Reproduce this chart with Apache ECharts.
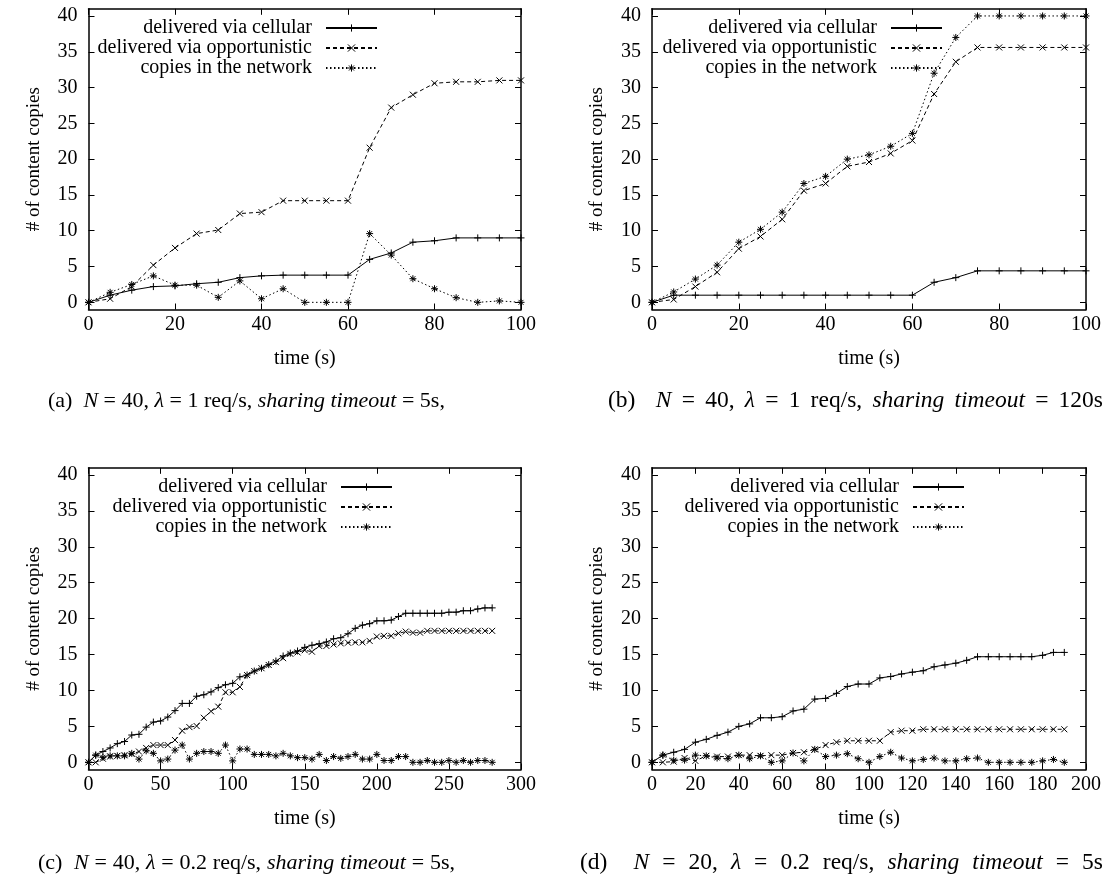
<!DOCTYPE html>
<html>
<head>
<meta charset="utf-8">
<script src="https://cdn.jsdelivr.net/npm/echarts@6/dist/echarts.min.js"></script>
<style>
  html, body { margin: 0; padding: 0; background: #fff; }
  #chart { width: 1106px; height: 880px; }
</style>
</head>
<body>
<div id="chart"></div>
<script>
// Series names shared by all four panels
const seriesNames = ['delivered via cellular', 'delivered via opportunistic', 'copies in the network'];

// Tick values
const yTicks = [0, 5, 10, 15, 20, 25, 30, 35, 40];
const xTicksAB = [0, 20, 40, 60, 80, 100];
const xTicksC = [0, 50, 100, 150, 200, 250, 300];
const xTicksD = [0, 20, 40, 60, 80, 100, 120, 140, 160, 180, 200];

// (a) N = 40, lambda = 1 req/s, sharing timeout = 5 s
const timeA = [0, 5, 10, 15, 20, 25, 30, 35, 40, 45, 50, 55, 60, 65, 70, 75, 80, 85, 90, 95, 100];
const cellA = [0, 1.0, 1.7, 2.2, 2.3, 2.6, 2.8, 3.45, 3.7, 3.8, 3.8, 3.8, 3.8, 6.0, 6.9, 8.4, 8.6, 9.0, 9.0, 9.0, 9.0];
const oppA  = [0, 0.5, 2.2, 5.2, 7.6, 9.6, 10.1, 12.4, 12.6, 14.2, 14.2, 14.2, 14.2, 21.6, 27.2, 29.0, 30.6, 30.8, 30.8, 31.0, 31.0];
const copA  = [0, 1.4, 2.5, 3.7, 2.4, 2.4, 0.7, 3.0, 0.5, 1.9, 0, 0, 0, 9.6, 6.6, 3.3, 1.9, 0.65, 0, 0.2, 0];

// (b) N = 40, lambda = 1 req/s, sharing timeout = 120 s
const timeB = [0, 5, 10, 15, 20, 25, 30, 35, 40, 45, 50, 55, 60, 65, 70, 75, 80, 85, 90, 95, 100];
const cellB = [0, 1.0, 1.0, 1.0, 1.0, 1.0, 1.0, 1.0, 1.0, 1.0, 1.0, 1.0, 1.0, 2.8, 3.45, 4.4, 4.4, 4.4, 4.4, 4.4, 4.4];
const oppB  = [0, 0.4, 2.2, 4.2, 7.5, 9.2, 11.6, 15.6, 16.6, 19.0, 19.6, 20.8, 22.6, 29.1, 33.6, 35.6, 35.6, 35.6, 35.6, 35.6, 35.6];
const copB  = [0, 1.45, 3.25, 5.2, 8.4, 10.2, 12.6, 16.6, 17.6, 20.0, 20.6, 21.8, 23.6, 32.0, 37.0, 40, 40, 40, 40, 40, 40];

// (c) N = 40, lambda = 0.2 req/s, sharing timeout = 5 s
const timeC = [0, 5, 10, 15, 20, 25, 30, 35, 40, 45, 50, 55, 60, 65, 70, 75, 80, 85, 90, 95,
  100, 105, 110, 115, 120, 125, 130, 135, 140, 145, 150, 155, 160, 165, 170, 175, 180, 185, 190, 195,
  200, 205, 210, 215, 220, 225, 230, 235, 240, 245, 250, 255, 260, 265, 270, 275, 280];
const cellC = [0, 1.0, 1.5, 2.0, 2.6, 2.9, 3.8, 3.9, 4.9, 5.6,
  5.75, 6.3, 7.2, 8.2, 8.2, 9.2, 9.4, 9.8, 10.4, 10.8,
  11.0, 11.9, 12.15, 12.7, 13.1, 13.6, 14.1, 14.8, 15.2, 15.5,
  16.0, 16.3, 16.5, 16.75, 17.2, 17.35, 17.9, 18.65, 19.1, 19.3,
  19.7, 19.7, 19.8, 20.3, 20.75, 20.75, 20.75, 20.75, 20.75, 20.75,
  20.9, 20.9, 21.1, 21.1, 21.35, 21.5, 21.5];
const oppC = [0, 0, 0.5, 0.8, 0.9, 1.0, 1.15, 1.5, 2.0, 2.4,
  2.4, 2.4, 3.1, 4.4, 4.9, 5.05, 6.2, 7.1, 7.75, 9.75,
  9.75, 10.5, 12.15, 12.7, 13.1, 13.55, 13.95, 14.5, 15.1, 15.3,
  15.6, 15.4, 16.2, 16.2, 16.4, 16.55, 16.65, 16.7, 16.7, 16.9,
  17.5, 17.6, 17.6, 17.95, 18.2, 18.05, 18.05, 18.3, 18.3, 18.3,
  18.3, 18.3, 18.3, 18.3, 18.3, 18.3, 18.3];
const copC = [0, 1.0, 0.7, 0.9, 0.9, 0.9, 1.25, 0.45, 1.6, 1.25,
  0.2, 0.45, 1.7, 2.4, 0.45, 1.25, 1.5, 1.5, 1.25, 2.4,
  0.2, 1.85, 1.85, 1.1, 1.1, 1.1, 0.9, 1.25, 0.9, 0.65,
  0.65, 0.45, 1.1, 0.25, 0.8, 0.55, 0.8, 1.1, 0.45, 0.45,
  1.1, 0.25, 0.25, 0.8, 0.8, 0, 0, 0.25, 0, 0,
  0.25, 0, 0.25, 0, 0.25, 0.25, 0];

// (d) N = 20, lambda = 0.2 req/s, sharing timeout = 5 s
const timeD = [0, 5, 10, 15, 20, 25, 30, 35, 40, 45, 50, 55, 60, 65, 70, 75, 80, 85, 90, 95,
  100, 105, 110, 115, 120, 125, 130, 135, 140, 145, 150, 155, 160, 165, 170, 175, 180, 185, 190];
const cellD = [0, 1.0, 1.4, 1.8, 2.8, 3.2, 3.75, 4.2, 5.0, 5.35,
  6.2, 6.2, 6.35, 7.15, 7.4, 8.8, 8.9, 9.6, 10.55, 10.9,
  10.9, 11.75, 11.95, 12.3, 12.55, 12.75, 13.3, 13.55, 13.8, 14.2,
  14.7, 14.7, 14.7, 14.7, 14.7, 14.7, 14.9, 15.3, 15.3];
const oppD = [0, 0, 0.1, 0.6, 0.2, 0.9, 0.8, 0.8, 1.0, 1.0,
  0.9, 1.0, 1.0, 1.3, 1.4, 1.8, 2.4, 2.8, 3.0, 3.0,
  3.0, 3.0, 4.2, 4.4, 4.4, 4.6, 4.6, 4.6, 4.6, 4.6,
  4.6, 4.6, 4.6, 4.6, 4.6, 4.6, 4.6, 4.6, 4.6];
const copD = [0, 1.0, 0.3, 0.3, 1.0, 0.9, 0.6, 0.5, 1.0, 0.5,
  0.9, 0, 0.2, 1.3, 0.2, 1.8, 0.8, 1.0, 1.2, 0.5,
  0, 0.8, 1.4, 0.6, 0.2, 0.4, 0.6, 0.2, 0.2, 0.5,
  0.6, 0, 0, 0, 0, 0, 0.2, 0.4, 0];

const FONT = 'Liberation Serif';

// gnuplot-like point types: 1 = plus, 2 = cross, 3 = asterisk
const SYM_PLUS = 'path://M0,5L10,5M5,0L5,10';
const SYM_CROSS = 'path://M0,0L10,10M10,0L0,10';
const SYM_STAR = 'path://M0,5L10,5M5,0L5,10M1.5,1.5L8.5,8.5M8.5,1.5L1.5,8.5';

const panels = [
  { grid: { left: 88.5, top: 8.8, width: 432.5, height: 300.7 }, xTicks: xTicksAB,
    time: timeA, cell: cellA, opp: oppA, cop: copA, legend: { right: 728, top: 18 } },
  { grid: { left: 652, top: 8.8, width: 434, height: 300.7 }, xTicks: xTicksAB,
    time: timeB, cell: cellB, opp: oppB, cop: copB, legend: { right: 163, top: 18 } },
  { grid: { left: 88.5, top: 467.8, width: 432.5, height: 301.7 }, xTicks: xTicksC,
    time: timeC, cell: cellC, opp: oppC, cop: copC, legend: { right: 713, top: 477 } },
  { grid: { left: 652, top: 467.8, width: 434, height: 301.7 }, xTicks: xTicksD,
    time: timeD, cell: cellD, opp: oppD, cop: copD, legend: { right: 141, top: 477 } }
];

// Sub-figure captions: words as [style, text]; 'r' roman, 'i' italic (math)
const captions = [
  { left: 48, right: 443, top: 390, size: 22, label: '(a)',
    words: [['i', 'N'], ['r', '='], ['r', '40,'], ['i', 'λ'], ['r', '='], ['r', '1'], ['r', 'req/s,'], ['i', 'sharing'], ['i', 'timeout'], ['r', '='], ['r', '5s,']] },
  { left: 608, right: 1103, top: 389, size: 23.5, label: '(b)',
    words: [['i', 'N'], ['r', '='], ['r', '40,'], ['i', 'λ'], ['r', '='], ['r', '1'], ['r', 'req/s,'], ['i', 'sharing'], ['i', 'timeout'], ['r', '='], ['r', '120s']] },
  { left: 38, right: 455, top: 852, size: 22, label: '(c)',
    words: [['i', 'N'], ['r', '='], ['r', '40,'], ['i', 'λ'], ['r', '='], ['r', '0.2'], ['r', 'req/s,'], ['i', 'sharing'], ['i', 'timeout'], ['r', '='], ['r', '5s,']] },
  { left: 580, right: 1103, top: 851, size: 23.5, label: '(d)',
    words: [['i', 'N'], ['r', '='], ['r', '20,'], ['i', 'λ'], ['r', '='], ['r', '0.2'], ['r', 'req/s,'], ['i', 'sharing'], ['i', 'timeout'], ['r', '='], ['r', '5s']] }
];

const measureCtx = document.createElement('canvas').getContext('2d');
function textWidth(str, italic, size) {
  measureCtx.font = (italic ? 'italic ' : '') + size + 'px "' + FONT + '"';
  return measureCtx.measureText(str).width;
}

// Lay the caption words out over the available line width (justified spacing)
function captionText(c) {
  const words = [['r', c.label]].concat(c.words);
  let natural = 0;
  words.forEach(w => { natural += textWidth(w[1], w[0] === 'i', c.size); });
  const gapUnits = (words.length - 1) + 1; // extra unit after the label
  const minGap = textWidth(' ', false, c.size);
  const gap = Math.max(minGap, (c.right - c.left - natural) / gapUnits);
  const rich = {
    r: { fontFamily: FONT, fontSize: c.size, color: '#000' },
    i: { fontFamily: FONT, fontSize: c.size, color: '#000', fontStyle: 'italic' },
    g: { fontFamily: FONT, fontSize: c.size, width: gap },
    g2: { fontFamily: FONT, fontSize: c.size, width: gap * 2 }
  };
  let s = '';
  words.forEach((w, k) => {
    if (k === 1) s += '{g2| }';
    else if (k > 1) s += '{g| }';
    s += '{' + w[0] + '|' + w[1] + '}';
  });
  return { text: s, rich };
}

const baseText = { fontFamily: FONT, fontSize: 20, color: '#000' };
const axisLineStyle = { color: '#000', width: 1.5 };
const tickLineStyle = { color: '#000', width: 1 };

function pairs(xs, ys) { return xs.map((x, i) => [x, ys[i]]); }

const grid = [], xAxis = [], yAxis = [], series = [], legend = [], title = [];

panels.forEach((p, i) => {
  grid.push(Object.assign({ containLabel: false }, p.grid));
  const xMax = p.xTicks[p.xTicks.length - 1];
  // bottom axis
  xAxis.push({
    type: 'value', gridIndex: i, min: 0, max: xMax, position: 'bottom',
    axisLine: { show: true, onZero: false, lineStyle: axisLineStyle },
    axisTick: { show: true, inside: true, length: 6, customValues: p.xTicks, lineStyle: tickLineStyle },
    axisLabel: Object.assign({ customValues: p.xTicks, margin: 5 }, baseText),
    splitLine: { show: false },
    name: 'time (s)', nameLocation: 'middle', nameGap: 39, nameTextStyle: baseText
  });
  // left axis
  yAxis.push({
    type: 'value', gridIndex: i, min: -1, max: 41, position: 'left',
    axisLine: { show: true, onZero: false, lineStyle: axisLineStyle },
    axisTick: { show: true, inside: true, length: 6, customValues: yTicks, lineStyle: tickLineStyle },
    axisLabel: Object.assign({ customValues: yTicks, margin: 11 }, baseText),
    splitLine: { show: false },
    name: '# of content copies', nameLocation: 'middle', nameGap: 45, nameRotate: 90,
    nameTextStyle: Object.assign({}, baseText, { fontSize: 19 })
  });
});
// mirrored tick axes on top and right
panels.forEach((p, i) => {
  const xMax = p.xTicks[p.xTicks.length - 1];
  xAxis.push({
    type: 'value', gridIndex: i, min: 0, max: xMax, position: 'top',
    axisLine: { show: true, onZero: false, lineStyle: axisLineStyle },
    axisTick: { show: true, inside: true, length: 6, customValues: p.xTicks, lineStyle: tickLineStyle },
    axisLabel: { show: false }, splitLine: { show: false }
  });
  yAxis.push({
    type: 'value', gridIndex: i, min: -1, max: 41, position: 'right',
    axisLine: { show: true, onZero: false, lineStyle: axisLineStyle },
    axisTick: { show: true, inside: true, length: 6, customValues: yTicks, lineStyle: tickLineStyle },
    axisLabel: { show: false }, splitLine: { show: false }
  });
});

panels.forEach((p, i) => {
  const defs = [
    { name: seriesNames[0], data: p.cell, symbol: SYM_PLUS, size: 7, dash: 'solid' },
    { name: seriesNames[1], data: p.opp, symbol: SYM_CROSS, size: 6, dash: [4, 3] },
    { name: seriesNames[2], data: p.cop, symbol: SYM_STAR, size: 7, dash: [1.5, 2.5] }
  ];
  defs.forEach(d => {
    series.push({
      type: 'line', name: d.name, xAxisIndex: i, yAxisIndex: i,
      data: pairs(p.time, d.data),
      symbol: d.symbol, symbolSize: d.size, showAllSymbol: true,
      itemStyle: { color: '#000', borderColor: '#000', borderWidth: 1 },
      lineStyle: { color: '#000', width: 1, type: d.dash },
      emphasis: { disabled: true }, silent: true
    });
  });
  legend.push({
    data: seriesNames, orient: 'vertical', align: 'right',
    right: p.legend.right, top: p.legend.top, padding: 0,
    itemWidth: 51, itemHeight: 9, itemGap: 0, selectedMode: false,
    itemStyle: { borderWidth: 1 },
    textStyle: Object.assign({ lineHeight: 20, padding: [0, 9, 0, 0] }, baseText)
  });
});

captions.forEach(c => {
  const t = captionText(c);
  title.push({
    left: c.left, top: c.top, padding: 0,
    text: t.text,
    textStyle: { fontFamily: FONT, fontSize: c.size, color: '#000', fontWeight: 'normal', rich: t.rich }
  });
});

const chart = echarts.init(document.getElementById('chart'), null, { renderer: 'canvas' });
chart.setOption({
  animation: false,
  backgroundColor: '#fff',
  title, grid, xAxis, yAxis, series, legend,
  tooltip: { show: false }
});
</script>
</body>
</html>
